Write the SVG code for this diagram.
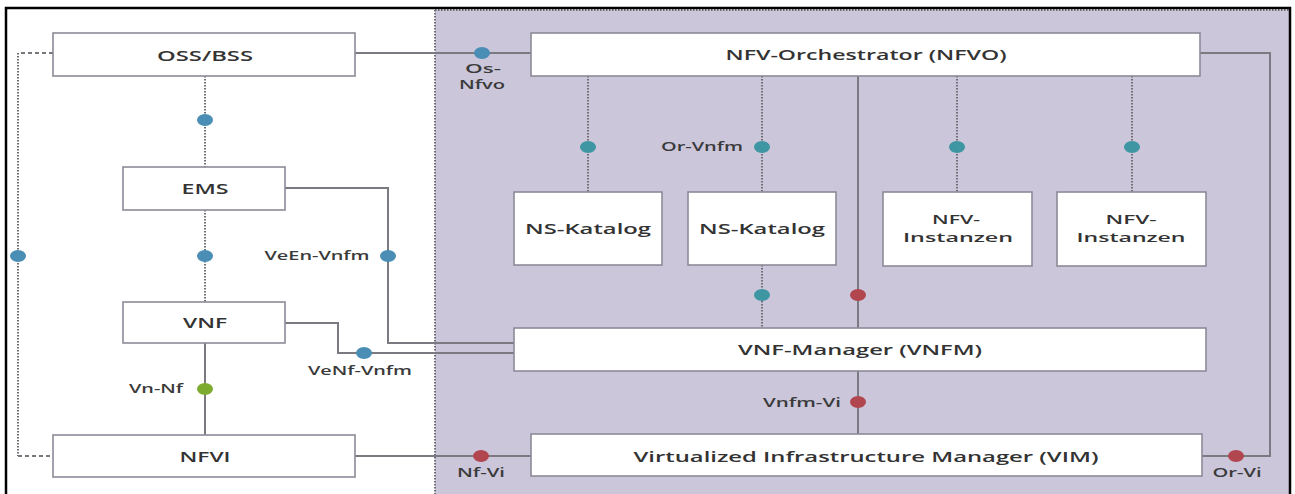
<svg xmlns="http://www.w3.org/2000/svg" width="1295" height="494" viewBox="0 0 1295 494">
<style>
.box{fill:#fff;stroke:#8d8b98;stroke-width:1.6}
.t{font-family:"Open Sans","Liberation Sans",sans-serif;font-weight:600;font-size:14px;fill:#333;text-anchor:middle}
.t2{font-family:"Open Sans","Liberation Sans",sans-serif;font-weight:600;font-size:13px;fill:#333;text-anchor:middle}
.l{font-family:"Open Sans","Liberation Sans",sans-serif;font-weight:600;font-size:12.5px;fill:#3a3a3a;text-anchor:middle}
.solid{fill:none;stroke:#7a7a80;stroke-width:2}
.dot{fill:none;stroke:#6e6e75;stroke-width:2;stroke-dasharray:1.5 1.5}
.dash{fill:none;stroke:#77777d;stroke-width:2;stroke-dasharray:4 3}
.b{fill:#4a8db5}
.tl{fill:#3e96a2}
.r{fill:#b2464f}
.g{fill:#7dab2f}
</style>
<rect x="0" y="0" width="1295" height="494" fill="#fff"/>
<rect x="435" y="10" width="855" height="484" fill="#cbc6da"/>
<path d="M435 10V494M435 10H1290" class="dot" stroke-width="1.5"/>
<path d="M6 500V8H1290V500" fill="none" stroke="#000" stroke-width="2.5"/>

<g id="connectors">
<path class="dash" d="M53 53H18"/>
<path class="dot" d="M18 53V456"/>
<path class="dash" d="M18 456H53"/>
<path class="dot" d="M205 76V167"/>
<path class="dot" d="M205 210V302"/>
<path class="solid" d="M205 343V435"/>
<path class="solid" d="M285 188H388V343H514"/>
<path class="solid" d="M285 323H338V353H514"/>
<path class="solid" d="M355 53H531"/>
<path class="solid" d="M355 456H531"/>
<path class="solid" d="M1202 456H1270V53H1200"/>
<path class="solid" d="M858 76V434"/>
<path class="dot" d="M588 76V192"/>
<path class="dot" d="M762 76V192"/>
<path class="dot" d="M957 76V192"/>
<path class="dot" d="M1132 76V192"/>
<path class="dot" d="M762 265V328"/>
<ellipse class="b" cx="18" cy="256" rx="8" ry="6"/>
<ellipse class="b" cx="205" cy="120" rx="8" ry="6"/>
<ellipse class="b" cx="205" cy="256" rx="8" ry="6"/>
<ellipse class="b" cx="388" cy="256" rx="8" ry="6"/>
<ellipse class="b" cx="364" cy="353" rx="8" ry="6"/>
<ellipse class="g" cx="205" cy="389" rx="8" ry="6"/>
<ellipse class="b" cx="482" cy="53" rx="8" ry="6"/>
<ellipse class="tl" cx="588" cy="147" rx="8" ry="6"/>
<ellipse class="tl" cx="762" cy="147" rx="8" ry="6"/>
<ellipse class="tl" cx="957" cy="147" rx="8" ry="6"/>
<ellipse class="tl" cx="1132" cy="147" rx="8" ry="6"/>
<ellipse class="tl" cx="762" cy="295" rx="8" ry="6"/>
<ellipse class="r" cx="858" cy="295" rx="8" ry="6"/>
<ellipse class="r" cx="858" cy="402" rx="8" ry="6"/>
<ellipse class="r" cx="481" cy="456" rx="8" ry="6"/>
<ellipse class="r" cx="1236" cy="456" rx="8" ry="6"/>
<text class="l" x="317" y="260" textLength="105" lengthAdjust="spacingAndGlyphs">VeEn-Vnfm</text>
<text class="l" x="360" y="375" textLength="104" lengthAdjust="spacingAndGlyphs">VeNf-Vnfm</text>
<text class="l" x="156" y="393" textLength="54" lengthAdjust="spacingAndGlyphs">Vn-Nf</text>
<text class="l" x="483" y="73" textLength="36" lengthAdjust="spacingAndGlyphs">Os-</text>
<text class="l" x="482" y="89" textLength="46" lengthAdjust="spacingAndGlyphs">Nfvo</text>
<text class="l" x="702" y="151" textLength="82" lengthAdjust="spacingAndGlyphs">Or-Vnfm</text>
<text class="l" x="802" y="407" textLength="78" lengthAdjust="spacingAndGlyphs">Vnfm-Vi</text>
<text class="l" x="481" y="477" textLength="48" lengthAdjust="spacingAndGlyphs">Nf-Vi</text>
<text class="l" x="1237" y="477" textLength="49" lengthAdjust="spacingAndGlyphs">Or-Vi</text>
</g>

<g id="oss">
<rect class="box" x="53" y="33" width="302" height="43"/>
<text class="t" x="205" y="61" textLength="96" lengthAdjust="spacingAndGlyphs">OSS/BSS</text>
</g>
<g id="ems">
<rect class="box" x="123" y="167" width="162" height="43"/>
<text class="t" x="205" y="194" textLength="47" lengthAdjust="spacingAndGlyphs">EMS</text>
</g>
<g id="vnf">
<rect class="box" x="123" y="302" width="162" height="41"/>
<text class="t" x="205" y="328" textLength="44" lengthAdjust="spacingAndGlyphs">VNF</text>
</g>
<g id="nfvi">
<rect class="box" x="53" y="435" width="302" height="42"/>
<text class="t" x="205" y="462" textLength="51" lengthAdjust="spacingAndGlyphs">NFVI</text>
</g>
<g id="nfvo">
<rect class="box" x="531" y="33" width="669" height="43"/>
<text class="t" x="866" y="60" textLength="281" lengthAdjust="spacingAndGlyphs">NFV-Orchestrator (NFVO)</text>
</g>
<g id="nskat1">
<rect class="box" x="514" y="192" width="148" height="73"/>
<text class="t" x="588" y="234" textLength="126" lengthAdjust="spacingAndGlyphs">NS-Katalog</text>
</g>
<g id="nskat2">
<rect class="box" x="688" y="192" width="148" height="73"/>
<text class="t" x="762" y="234" textLength="126" lengthAdjust="spacingAndGlyphs">NS-Katalog</text>
</g>
<g id="nfvinst1">
<rect class="box" x="883" y="192" width="149" height="74"/>
<text class="t2" x="956" y="224" textLength="48" lengthAdjust="spacingAndGlyphs">NFV-</text>
<text class="t2" x="958" y="242" textLength="110" lengthAdjust="spacingAndGlyphs">Instanzen</text>
</g>
<g id="nfvinst2">
<rect class="box" x="1057" y="192" width="149" height="74"/>
<text class="t2" x="1131" y="224" textLength="51" lengthAdjust="spacingAndGlyphs">NFV-</text>
<text class="t2" x="1131" y="242" textLength="109" lengthAdjust="spacingAndGlyphs">Instanzen</text>
</g>
<g id="vnfm">
<rect class="box" x="514" y="328" width="692" height="43"/>
<text class="t" x="860" y="355" textLength="244" lengthAdjust="spacingAndGlyphs">VNF-Manager (VNFM)</text>
</g>
<g id="vim">
<rect class="box" x="531" y="434" width="671" height="42"/>
<text class="t" x="866" y="462" textLength="465" lengthAdjust="spacingAndGlyphs">Virtualized Infrastructure Manager (VIM)</text>
</g>
</svg>
